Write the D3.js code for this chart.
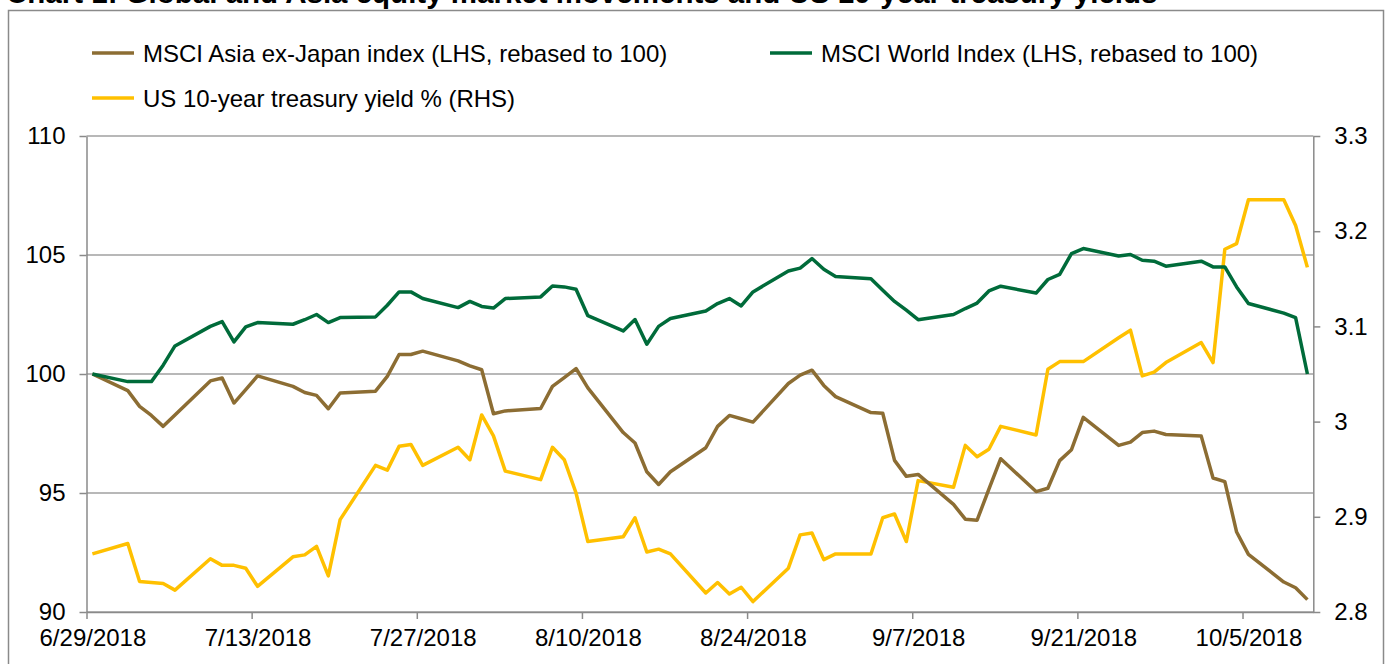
<!DOCTYPE html>
<html>
<head>
<meta charset="utf-8">
<script src="https://cdn.jsdelivr.net/npm/d3@7"></script>
<style>
  html, body { margin: 0; padding: 0; background: #fff; }
  svg { display: block; font-family: "Liberation Sans", Arial, sans-serif; }
</style>
</head>
<body>
<script>
// trading days
var dates = [
  "2018-06-29",
  "2018-07-02", "2018-07-03", "2018-07-04", "2018-07-05", "2018-07-06",
  "2018-07-09", "2018-07-10", "2018-07-11", "2018-07-12", "2018-07-13",
  "2018-07-16", "2018-07-17", "2018-07-18", "2018-07-19", "2018-07-20",
  "2018-07-23", "2018-07-24", "2018-07-25", "2018-07-26", "2018-07-27",
  "2018-07-30", "2018-07-31", "2018-08-01", "2018-08-02", "2018-08-03",
  "2018-08-06", "2018-08-07", "2018-08-08", "2018-08-09", "2018-08-10",
  "2018-08-13", "2018-08-14", "2018-08-15", "2018-08-16", "2018-08-17",
  "2018-08-20", "2018-08-21", "2018-08-22", "2018-08-23", "2018-08-24",
  "2018-08-27", "2018-08-28", "2018-08-29", "2018-08-30", "2018-08-31",
  "2018-09-03", "2018-09-04", "2018-09-05", "2018-09-06", "2018-09-07",
  "2018-09-10", "2018-09-11", "2018-09-12", "2018-09-13", "2018-09-14",
  "2018-09-17", "2018-09-18", "2018-09-19", "2018-09-20", "2018-09-21",
  "2018-09-24", "2018-09-25", "2018-09-26", "2018-09-27", "2018-09-28",
  "2018-10-01", "2018-10-02", "2018-10-03", "2018-10-04", "2018-10-05",
  "2018-10-08", "2018-10-09", "2018-10-10"
];

// MSCI Asia ex-Japan, rebased to 100
var asia = [
  100.0,
  99.3, 98.64, 98.26, 97.8, 98.28,
  99.71, 99.83, 98.78, 99.34, 99.92,
  99.48, 99.22, 99.1, 98.54, 99.2,
  99.28, 99.9, 100.82, 100.82, 100.96,
  100.55, 100.34, 100.18, 98.33, 98.45,
  98.55, 99.48, 99.85, 100.23, 99.42,
  97.54, 97.1, 95.89, 95.36, 95.89,
  96.9, 97.8, 98.26, 98.12, 97.98,
  99.6, 99.95, 100.16, 99.52, 99.05,
  98.38, 98.35, 96.37, 95.7, 95.78,
  94.52, 93.9, 93.86, 95.16, 96.44,
  95.06, 95.2, 96.36, 96.82, 98.18,
  97.0, 97.14, 97.54, 97.6, 97.46,
  97.39, 95.63, 95.48, 93.36, 92.42,
  91.26, 91.02, 90.52
];

// MSCI World, rebased to 100
var world = [
  100.0,
  99.68, 99.68, 99.68, 100.37, 101.18,
  102.0, 102.2, 101.35, 101.98, 102.16,
  102.09, 102.28, 102.5, 102.16, 102.37,
  102.4, 102.89, 103.45, 103.45, 103.17,
  102.79, 103.05, 102.84, 102.77, 103.17,
  103.24, 103.7, 103.66, 103.56, 102.45,
  101.81, 102.29, 101.25, 102.0, 102.33,
  102.65, 102.96, 103.17, 102.86, 103.45,
  104.33, 104.45, 104.85, 104.4, 104.1,
  104.0, 103.52, 103.05, 102.68, 102.28,
  102.5, 102.75, 102.98, 103.49, 103.69,
  103.4, 103.97, 104.19, 105.06, 105.27,
  104.96, 105.02, 104.78, 104.74, 104.53,
  104.74, 104.5, 104.5, 103.66, 102.96,
  102.56, 102.37, 100.0
];

// US 10-year treasury yield %
var ust10 = [
  2.861,
  2.872, 2.832, 2.831, 2.830, 2.823,
  2.856, 2.849, 2.849, 2.846, 2.827,
  2.858, 2.860, 2.869, 2.838, 2.897,
  2.954, 2.949, 2.974, 2.976, 2.954,
  2.973, 2.960, 3.007, 2.985, 2.948,
  2.939, 2.973, 2.960, 2.925, 2.874,
  2.879, 2.899, 2.863, 2.866, 2.861,
  2.820, 2.831, 2.819, 2.826, 2.811,
  2.846, 2.881, 2.883, 2.855, 2.861,
  2.861, 2.899, 2.903, 2.874, 2.938,
  2.931, 2.975, 2.963, 2.971, 2.995,
  2.986, 3.055, 3.063, 3.063, 3.063,
  3.088, 3.096, 3.048, 3.052, 3.062,
  3.083, 3.062, 3.181, 3.187, 3.233,
  3.233, 3.206, 3.162
];

var xTicks = ["2018-06-29", "2018-07-13", "2018-07-27", "2018-08-10", "2018-08-24", "2018-09-07", "2018-09-21", "2018-10-05"];
var leftTicks = [90, 95, 100, 105, 110];
var rightTicks = [2.8, 2.9, 3, 3.1, 3.2, 3.3];

var seriesNames = [
  "MSCI Asia ex-Japan index (LHS, rebased to 100)",
  "MSCI World Index (LHS, rebased to 100)",
  "US 10-year treasury yield % (RHS)"
];
var seriesColors = ["#8c6d33", "#006b3a", "#ffc000"];

function init() {
  var w = 1386, h = 664;
  var pL = 86.5, pR = 1313.3, pT = 136, pB = 612;
  var parse = d3.timeParse("%Y-%m-%d");

  var svg = d3.select("body").append("svg")
    .attr("width", w)
    .attr("height", h);

  // outer frame
  svg.append("rect")
    .attr("x", 8.5).attr("y", 10.5)
    .attr("width", 1375).attr("height", 700)
    .attr("fill", "none")
    .attr("stroke", "#8a8a8a")
    .attr("stroke-width", 1.5);

  // title, mostly cut off at the top
  svg.append("text")
    .attr("x", 6).attr("y", 3)
    .attr("font-size", 29.5)
    .attr("font-weight", "bold")
    .attr("fill", "#000")
    .text("Chart 1: Global and Asia equity market movements and US 10-year treasury yields");

  var x = d3.scaleTime()
    .domain([new Date(2018, 5, 29), new Date(2018, 9, 11)])
    .range([pL, pR]);
  var halfDay = (x(new Date(2018, 5, 30)) - x(new Date(2018, 5, 29))) / 2;

  var yL = d3.scaleLinear().domain([90, 110]).range([pB, pT]);
  var yR = d3.scaleLinear().domain([2.8, 3.3]).range([pB, pT]);

  // gridlines
  svg.append("g")
    .selectAll("line")
    .data(leftTicks)
    .enter()
    .append("line")
    .attr("x1", pL).attr("x2", pR)
    .attr("y1", function (d) { return yL(d); })
    .attr("y2", function (d) { return yL(d); })
    .attr("stroke", "#a0a0a0")
    .attr("stroke-width", 1.5);

  function styleAxis(g) {
    g.select(".domain").attr("stroke", "#8a8a8a").attr("stroke-width", 1.5);
    g.selectAll(".tick line").attr("stroke", "#8a8a8a").attr("stroke-width", 1.5);
    g.selectAll(".tick text").attr("fill", "#000").attr("font-size", 24)
      .attr("font-family", "'Liberation Sans', Arial, sans-serif");
  }

  // x axis
  var xAxis = svg.append("g")
    .attr("transform", "translate(0," + pB + ")")
    .call(d3.axisBottom(x)
      .tickValues(xTicks.map(parse))
      .tickSize(7)
      .tickSizeOuter(0)
      .tickPadding(10)
      .tickFormat(d3.timeFormat("%-m/%-d/%Y")));
  styleAxis(xAxis);
  xAxis.selectAll(".tick text").attr("dx", halfDay);

  // left axis
  var lAxis = svg.append("g")
    .attr("transform", "translate(" + pL + ",0)")
    .call(d3.axisLeft(yL).tickValues(leftTicks).tickSize(7).tickSizeOuter(0).tickPadding(14));
  styleAxis(lAxis);

  // right axis
  var rAxis = svg.append("g")
    .attr("transform", "translate(" + pR + ",0)")
    .call(d3.axisRight(yR).tickValues(rightTicks).tickSize(7).tickSizeOuter(0).tickPadding(14)
      .tickFormat(function (d) { return String(d); }));
  styleAxis(rAxis);

  // lines
  var xDate = function (i) { return x(parse(dates[i])) + halfDay; };
  var lineL = d3.line().x(function (d, i) { return xDate(i); }).y(function (d) { return yL(d); });
  var lineR = d3.line().x(function (d, i) { return xDate(i); }).y(function (d) { return yR(d); });

  svg.append("path").datum(ust10)
    .attr("d", lineR)
    .attr("fill", "none")
    .attr("stroke", seriesColors[2])
    .attr("stroke-width", 3.5)
    .attr("stroke-linejoin", "round");
  svg.append("path").datum(asia)
    .attr("d", lineL)
    .attr("fill", "none")
    .attr("stroke", seriesColors[0])
    .attr("stroke-width", 3.5)
    .attr("stroke-linejoin", "round");
  svg.append("path").datum(world)
    .attr("d", lineL)
    .attr("fill", "none")
    .attr("stroke", seriesColors[1])
    .attr("stroke-width", 3.5)
    .attr("stroke-linejoin", "round");

  // legend
  var legendPos = [[92, 53], [770, 53], [92, 98]];
  var legend = svg.selectAll("g.legend")
    .data(seriesNames)
    .enter()
    .append("g")
    .attr("class", "legend")
    .attr("transform", function (d, i) {
      return "translate(" + legendPos[i][0] + "," + legendPos[i][1] + ")";
    });
  legend.append("line")
    .attr("x1", 0).attr("x2", 42)
    .attr("stroke", function (d, i) { return seriesColors[i]; })
    .attr("stroke-width", 3.5);
  legend.append("text")
    .attr("x", 51)
    .attr("y", 8.5)
    .attr("font-size", 24)
    .attr("fill", "#000")
    .text(function (d) { return d; });
}
init();
</script>
</body>
</html>
